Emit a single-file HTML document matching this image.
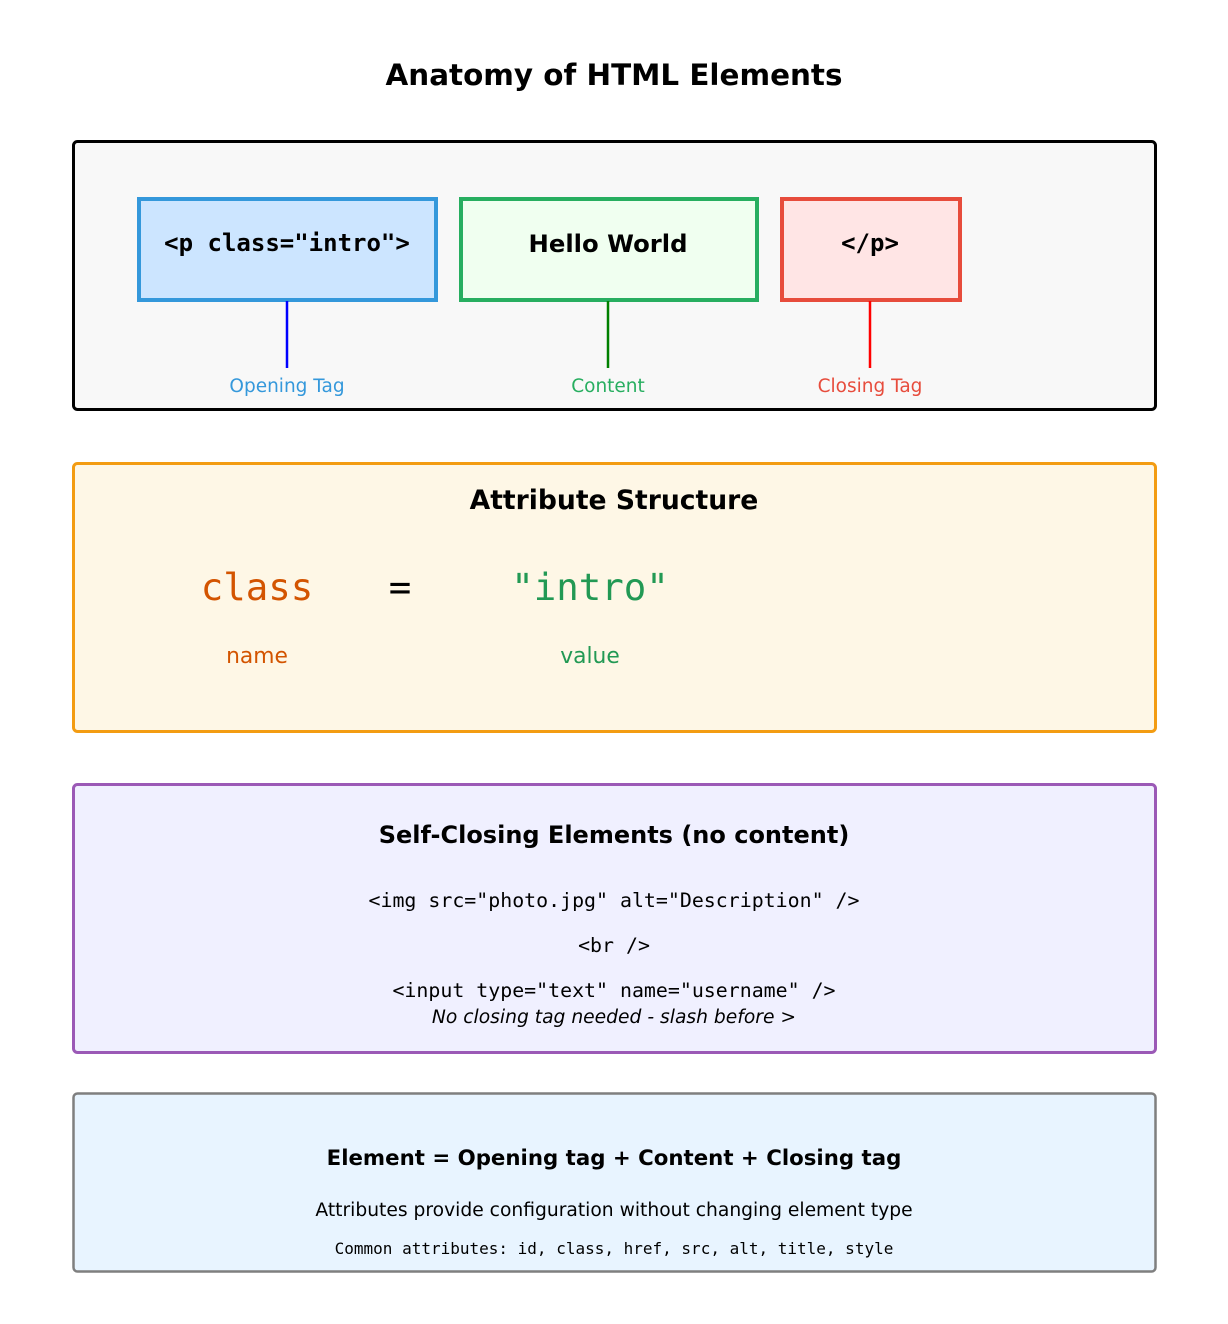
<!DOCTYPE html>
<html><head><meta charset="utf-8"><style>html,body{margin:0;padding:0;background:#fff}svg{display:block}</style></head>
<body>
<svg width="1228" height="1324" viewBox="0 0 1228 1324" xmlns="http://www.w3.org/2000/svg" font-family="DejaVu Sans, Liberation Sans, sans-serif">
<text x="614" y="85" text-anchor="middle" font-size="29.4" font-weight="bold">Anatomy of HTML Elements</text>

<rect x="73.5" y="141.5" width="1082" height="268" rx="4" fill="#f8f8f8" stroke="#000" stroke-width="3"/>
<rect x="139" y="199" width="297" height="101" fill="#cce5ff" stroke="#3498db" stroke-width="4"/>
<rect x="461" y="199" width="296" height="101" fill="#f0fff0" stroke="#27ae60" stroke-width="4"/>
<rect x="782" y="199" width="178" height="101" fill="#ffe5e5" stroke="#e74c3c" stroke-width="4"/>
<g font-family="DejaVu Sans Mono, Liberation Mono, monospace" font-weight="bold" font-size="24" text-anchor="middle">
<text x="287" y="251">&lt;p class="intro"&gt;</text>
<text x="870" y="251">&lt;/p&gt;</text>
</g>
<text x="608" y="252" text-anchor="middle" font-size="24.3" font-weight="bold">Hello World</text>
<line x1="287" y1="301" x2="287" y2="368" stroke="#0000ff" stroke-width="2.5"/>
<line x1="608" y1="301" x2="608" y2="368" stroke="#008000" stroke-width="2.5"/>
<line x1="870" y1="301" x2="870" y2="368" stroke="#ff0000" stroke-width="2.5"/>
<g font-size="18.5" text-anchor="middle">
<text x="287" y="392" fill="#3498db">Opening Tag</text>
<text x="608" y="392" fill="#27ae60">Content</text>
<text x="870" y="392" fill="#e74c3c">Closing Tag</text>
</g>

<rect x="73.5" y="463.5" width="1082" height="268" rx="4" fill="#fef7e6" stroke="#f39c12" stroke-width="3"/>
<text x="614" y="509" text-anchor="middle" font-size="26.6" font-weight="bold">Attribute Structure</text>
<g font-family="DejaVu Sans Mono, Liberation Mono, monospace" font-size="37.4" text-anchor="middle">
<text x="257" y="600" fill="#d35400">class</text>
<text x="400" y="600" fill="#000">=</text>
<text x="590" y="600" fill="#229954">"intro"</text>
</g>
<text x="257" y="663" text-anchor="middle" font-size="21.8" fill="#d35400">name</text>
<text x="590" y="663" text-anchor="middle" font-size="21.8" fill="#229954">value</text>

<rect x="73.5" y="784.5" width="1082" height="268" rx="4" fill="#f0f0ff" stroke="#9b59b6" stroke-width="3"/>
<text x="614" y="843" text-anchor="middle" font-size="24" font-weight="bold">Self-Closing Elements (no content)</text>
<g font-family="DejaVu Sans Mono, Liberation Mono, monospace" font-size="19.9" text-anchor="middle">
<text x="614" y="907">&lt;img src="photo.jpg" alt="Description" /&gt;</text>
<text x="614" y="952">&lt;br /&gt;</text>
<text x="614" y="997">&lt;input type="text" name="username" /&gt;</text>
</g>
<text x="614" y="1023" text-anchor="middle" font-size="18.7" font-style="italic">No closing tag needed - slash before &gt;</text>

<rect x="73.5" y="1093.5" width="1082" height="178" rx="4" fill="#e8f4ff" stroke="#7f7f7f" stroke-width="2.5"/>
<text x="614" y="1165" text-anchor="middle" font-size="21.3" font-weight="bold">Element = Opening tag + Content + Closing tag</text>
<text x="614" y="1216" text-anchor="middle" font-size="18.7">Attributes provide configuration without changing element type</text>
<text x="614" y="1254" text-anchor="middle" font-size="16" font-family="DejaVu Sans Mono, Liberation Mono, monospace">Common attributes: id, class, href, src, alt, title, style</text>
</svg>
</body></html>
